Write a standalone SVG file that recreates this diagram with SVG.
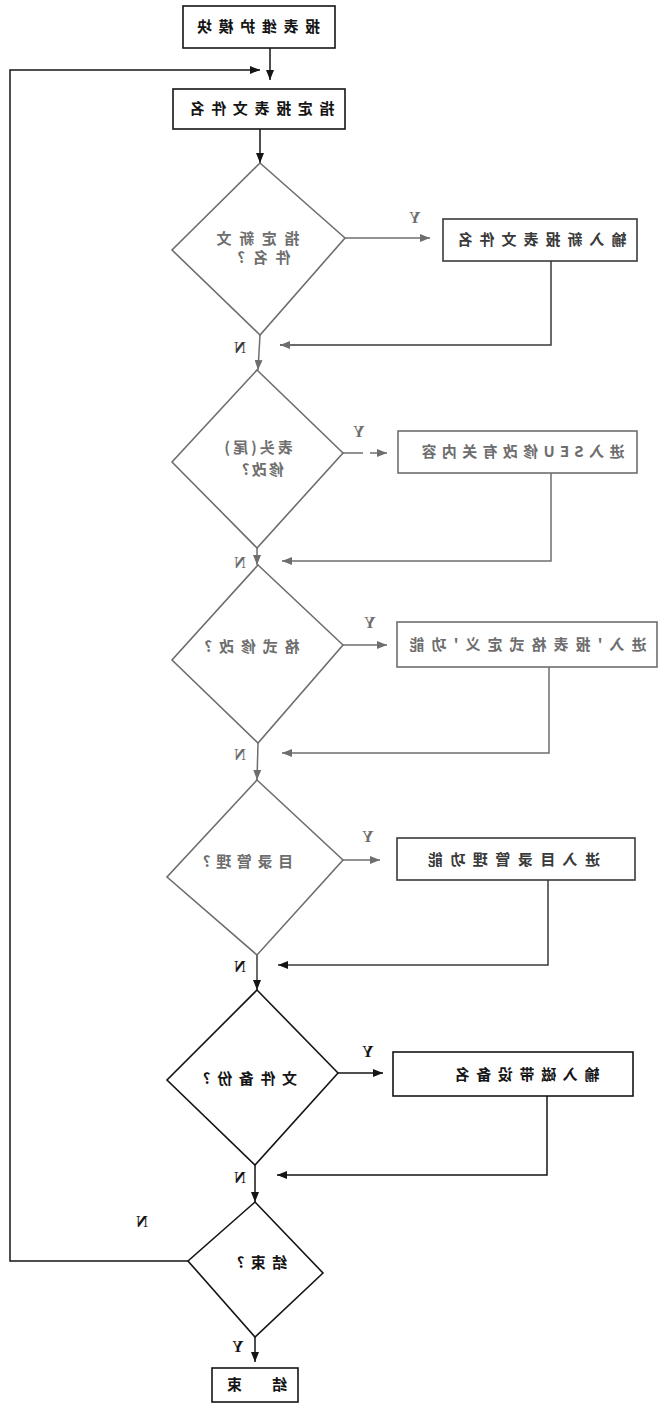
<svg xmlns="http://www.w3.org/2000/svg" width="667" height="1411" viewBox="0 0 667 1411">
<style>
  .bg { fill: #ffffff; }
  .shape { fill: none; stroke-width: 1.6; }
  .k { stroke: #151515; }
  .d { stroke: #3a3a3a; }
  .g { stroke: #6e6e6e; }
  .line { fill: none; stroke-width: 1.5; }
  .t { font-family: "Noto Sans CJK SC", "Noto Sans", sans-serif; font-size: 15px; font-weight: bold; text-anchor: middle; }
  .lbl { font-family: "Liberation Serif", serif; font-size: 16px; font-weight: bold; text-anchor: middle; }
  .tk { fill: #151515; }
  .td { fill: #3a3a3a; }
  .tg { fill: #6e6e6e; }
</style>
<defs>
  <marker id="ak" markerUnits="userSpaceOnUse" markerWidth="10" markerHeight="8" refX="10" refY="4" orient="auto">
    <path d="M0,0 L10,4 L0,8 Z" fill="#151515"/>
  </marker>
  <marker id="ag" markerUnits="userSpaceOnUse" markerWidth="10" markerHeight="8" refX="10" refY="4" orient="auto">
    <path d="M0,0 L10,4 L0,8 Z" fill="#6e6e6e"/>
  </marker>
</defs>
<rect class="bg" x="0" y="0" width="667" height="1411"/>

<g id="connectors">
  <line class="line k" x1="270" y1="48" x2="270" y2="80" marker-end="url(#ak)"/>
  <polyline class="line k" points="188,1261 10,1261 10,70 260,70" marker-end="url(#ak)"/>
  <line class="line k" x1="260" y1="129" x2="260" y2="163" marker-end="url(#ak)"/>
  <line class="line g" x1="345" y1="238" x2="430" y2="238" marker-end="url(#ag)"/>
  <polyline class="line d" points="551,261 551,345 280,345" marker-end="url(#ag)"/>
  <line class="line g" x1="260" y1="335" x2="258" y2="370" marker-end="url(#ag)"/>
  <line class="line g" x1="343" y1="453" x2="363" y2="453"/>
  <line class="line g" x1="370" y1="453" x2="387" y2="453" marker-end="url(#ag)"/>
  <polyline class="line g" points="551,473 551,561 282,561" marker-end="url(#ag)"/>
  <line class="line g" x1="257" y1="548" x2="257" y2="565" marker-end="url(#ag)"/>
  <line class="line g" x1="343" y1="645" x2="387" y2="645" marker-end="url(#ag)"/>
  <polyline class="line g" points="549,667 549,753 282,753" marker-end="url(#ag)"/>
  <line class="line g" x1="258" y1="743" x2="257" y2="780" marker-end="url(#ag)"/>
  <line class="line g" x1="343" y1="860" x2="380" y2="860" marker-end="url(#ag)"/>
  <polyline class="line d" points="548,880 548,965 278,965" marker-end="url(#ak)"/>
  <line class="line d" x1="257" y1="955" x2="257" y2="990" marker-end="url(#ak)"/>
  <line class="line k" x1="338" y1="1073" x2="383" y2="1073" marker-end="url(#ak)"/>
  <polyline class="line k" points="547,1096 547,1175 277,1175" marker-end="url(#ak)"/>
  <line class="line k" x1="255" y1="1165" x2="255" y2="1202" marker-end="url(#ak)"/>
  <line class="line k" x1="255" y1="1337" x2="255" y2="1362" marker-end="url(#ak)"/>
</g>

<g id="labels">
  <text class="lbl tg" transform="scale(-1,1)" x="-415" y="223">Y</text>
  <text class="lbl td" transform="scale(-1,1)" x="-240" y="353">N</text>
  <text class="lbl tg" transform="scale(-1,1)" x="-359" y="437">Y</text>
  <text class="lbl tg" transform="scale(-1,1)" x="-240" y="568">N</text>
  <text class="lbl tg" transform="scale(-1,1)" x="-370" y="628">Y</text>
  <text class="lbl tg" transform="scale(-1,1)" x="-240" y="760">N</text>
  <text class="lbl tg" transform="scale(-1,1)" x="-368" y="842">Y</text>
  <text class="lbl tk" transform="scale(-1,1)" x="-240" y="972">N</text>
  <text class="lbl tk" transform="scale(-1,1)" x="-368" y="1057">Y</text>
  <text class="lbl tk" transform="scale(-1,1)" x="-240" y="1183">N</text>
  <text class="lbl tk" transform="scale(-1,1)" x="-142" y="1227">N</text>
  <text class="lbl tk" transform="scale(-1,1)" x="-238" y="1352">Y</text>
</g>

<g id="start">
  <rect class="shape k" x="183" y="6" width="152" height="42"/>
  <text class="t tk" transform="scale(-1,1)" x="-258.5" y="32" textLength="123" lengthAdjust="spacing">报表维护模块</text>
</g>

<g id="set-name">
  <rect class="shape k" x="173" y="89" width="172" height="40"/>
  <text class="t tk" transform="scale(-1,1)" x="-262" y="114" textLength="145" lengthAdjust="spacing">指定报表文件名</text>
</g>

<g id="d-new-name">
  <polygon class="shape g" points="260,163 345,238 260,335 172,250"/>
  <text class="t tg" transform="scale(-1,1)" x="-258" y="244" textLength="83" lengthAdjust="spacing">指定新文</text>
  <text class="t tg" transform="scale(-1,1)" x="-264" y="263" textLength="53" lengthAdjust="spacing">件名?</text>
</g>

<g id="b-new-name">
  <rect class="shape d" x="443" y="219" width="194" height="42"/>
  <text class="t td" transform="scale(-1,1)" x="-542" y="245" textLength="169" lengthAdjust="spacing">输入新报表文件名</text>
</g>

<g id="d-header">
  <polygon class="shape g" points="257,370 343,453 257,548 172,462"/>
  <text class="t tg" transform="scale(-1,1)" x="-257" y="453" letter-spacing="3">表头(尾)</text>
  <text class="t tg" transform="scale(-1,1)" x="-262" y="475" letter-spacing="2">修改?</text>
</g>

<g id="b-seu">
  <rect class="shape g" x="398" y="431" width="239" height="42"/>
  <text class="t tg" transform="scale(-1,1)" x="-523" y="457" textLength="203" lengthAdjust="spacing">进入SEU修改有关内容</text>
</g>

<g id="d-format">
  <polygon class="shape g" points="258,565 343,645 258,743 172,660"/>
  <text class="t tg" transform="scale(-1,1)" x="-252" y="652" textLength="95" lengthAdjust="spacing">格式修改?</text>
</g>

<g id="b-format">
  <rect class="shape g" x="397" y="622" width="260" height="45"/>
  <text class="t tg" transform="scale(-1,1)" x="-528" y="650" textLength="237" lengthAdjust="spacing">进入'报表格式定义'功能</text>
</g>

<g id="d-dir">
  <polygon class="shape g" points="257,780 343,860 257,955 167,877"/>
  <text class="t tg" transform="scale(-1,1)" x="-248" y="867" textLength="90" lengthAdjust="spacing">目录管理?</text>
</g>

<g id="b-dir">
  <rect class="shape d" x="397" y="838" width="238" height="42"/>
  <text class="t td" transform="scale(-1,1)" x="-514" y="865" textLength="172" lengthAdjust="spacing">进入目录管理功能</text>
</g>

<g id="d-backup">
  <polygon class="shape k" points="257,990 338,1073 255,1165 167,1080"/>
  <text class="t tk" transform="scale(-1,1)" x="-250" y="1084" textLength="94" lengthAdjust="spacing">文件备份?</text>
</g>

<g id="b-backup">
  <rect class="shape k" x="393" y="1052" width="240" height="44"/>
  <text class="t tk" transform="scale(-1,1)" x="-527" y="1080" textLength="145" lengthAdjust="spacing">输入磁带设备名</text>
</g>

<g id="d-end">
  <polygon class="shape k" points="255,1202 323,1273 255,1337 188,1261"/>
  <text class="t tk" transform="scale(-1,1)" x="-262" y="1268" textLength="50" lengthAdjust="spacing">结束?</text>
</g>

<g id="end">
  <rect class="shape k" x="212" y="1368" width="86" height="34"/>
  <text class="t tk" transform="scale(-1,1)" x="-257" y="1390" textLength="60" lengthAdjust="spacing">结束</text>
</g>
</svg>
